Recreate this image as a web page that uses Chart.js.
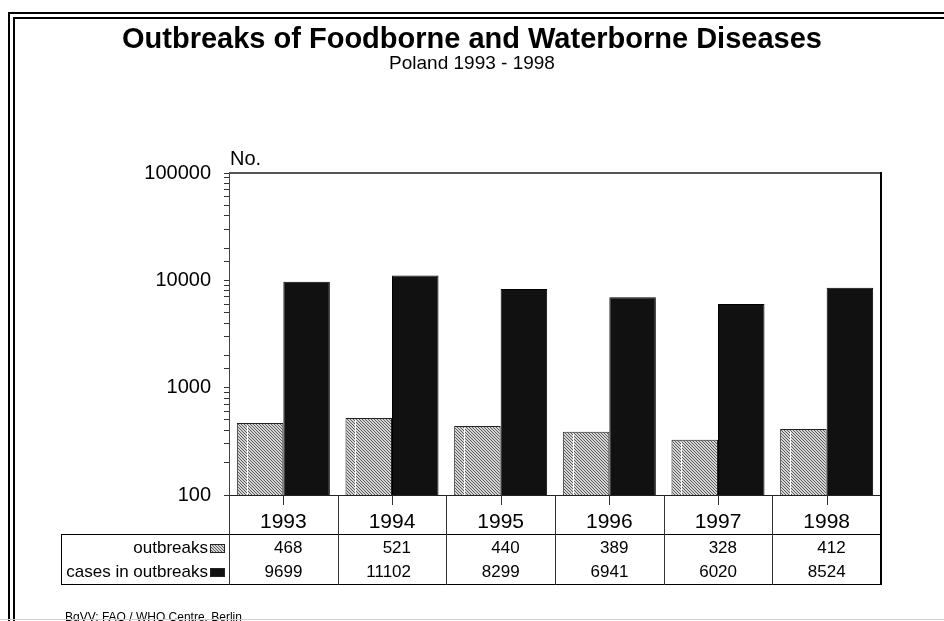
<!DOCTYPE html>
<html>
<head>
<meta charset="utf-8">
<title>Outbreaks of Foodborne and Waterborne Diseases</title>
<script src="https://cdn.jsdelivr.net/npm/chart.js@4.4.0/dist/chart.umd.min.js"></script>
<style>
  html, body { margin: 0; padding: 0; background: #fff; }
  canvas { display: block; }
</style>
</head>
<body>
<canvas id="canvas" width="944" height="621"></canvas>
<script>
var years = ["1993", "1994", "1995", "1996", "1997", "1998"];
var outbreaks = [468, 521, 440, 389, 328, 412];
var cases = [9699, 11102, 8299, 6941, 6020, 8524];
var seriesNames = ["outbreaks", "cases in outbreaks"];
var yTicks = [100, 1000, 10000, 100000];

var FONT = "'Liberation Sans', Arial, sans-serif";
Chart.defaults.font.family = FONT;
Chart.defaults.color = "#000";

// small diagonal hatch used for the outbreaks bars
function hatch(ctx) {
    var tile = document.createElement("canvas");
    tile.width = 3;
    tile.height = 3;
    var t = tile.getContext("2d");
    t.fillStyle = "#d6d6d6";
    t.fillRect(0, 0, 3, 3);
    t.fillStyle = "#5a5a5a";
    for (var i = 0; i < 3; i++) {
        t.fillRect(i, i, 1, 1);
    }
    return ctx.createPattern(tile, "repeat");
}

var canvas = document.getElementById("canvas");
var ctx = canvas.getContext("2d");
var pattern = hatch(ctx);
var colors = [pattern, "#111"];

function line(c, x1, y1, x2, y2, color, w) {
    c.strokeStyle = color;
    c.lineWidth = w;
    c.beginPath();
    c.moveTo(x1, y1);
    c.lineTo(x2, y2);
    c.stroke();
}

var decorations = {
    id: "decorations",
    afterDatasetsDraw: function (chart) {
        // thin light streak inside each hatched bar
        var c = chart.ctx;
        chart.getDatasetMeta(0).data.forEach(function (bar) {
            var x0 = bar.x - bar.width / 2 + 10;
            c.fillStyle = "#fff";
            c.fillRect(Math.round(x0), bar.y + 2, 1, bar.base - bar.y - 2);
        });
    },
    afterDraw: function (chart) {
        var c = chart.ctx;
        var a = chart.chartArea;
        var xs = chart.scales.x;
        var W = chart.width, H = chart.height;
        c.save();

        // double frame
        c.fillStyle = "#000";
        c.fillRect(8, 12, 2, H - 12);
        c.fillRect(8, 12, W - 8, 2);
        c.fillRect(13, 17, 2, H - 17);
        c.fillRect(13, 17, W - 13, 2);

        // titles
        c.fillStyle = "#000";
        c.textAlign = "center";
        c.textBaseline = "middle";
        c.font = "bold 29px " + FONT;
        c.fillText("Outbreaks of Foodborne and Waterborne Diseases", 472, 40);
        c.font = "19px " + FONT;
        c.fillText("Poland 1993 - 1998", 472, 64);

        c.textAlign = "left";
        c.font = "20px " + FONT;
        c.fillText("No.", a.left + 1, 159);

        // plot box
        line(c, a.left, a.top, a.right, a.top, "#555", 2);
        line(c, a.right, a.top - 1, a.right, a.bottom, "#000", 2);
        line(c, a.left, a.bottom + 0.5, a.right, a.bottom + 0.5, "#222", 1);

        // data table below the bars
        var step = xs.getPixelForValue(1) - xs.getPixelForValue(0);
        var tableLeft = 61, rowTop = 534, tableBottom = 585;
        var rowY = [548, 572];
        var values = [outbreaks, cases];

        line(c, tableLeft, rowTop + 0.5, a.right, rowTop + 0.5, "#000", 1);
        line(c, tableLeft, tableBottom - 0.5, a.right, tableBottom - 0.5, "#000", 1);
        line(c, tableLeft + 0.5, rowTop, tableLeft + 0.5, tableBottom, "#000", 1);

        for (var i = 0; i <= years.length; i++) {
            var bx = Math.round(a.left + i * step) + 0.5;
            if (i === years.length) bx = a.right;
            line(c, bx, a.bottom, bx, tableBottom, i === years.length ? "#000" : "#333", i === years.length ? 2 : 1);
        }

        years.forEach(function (yr, i) {
            var cx = xs.getPixelForValue(i);
            line(c, Math.round(cx) + 0.5, a.bottom, Math.round(cx) + 0.5, a.bottom + 10, "#333", 1);
            c.fillStyle = "#000";
            c.textAlign = "center";
            c.font = "21px " + FONT;
            c.fillText(yr, cx, 522);
            c.textAlign = "right";
            c.font = "17px " + FONT;
            c.fillText(String(values[0][i]), cx + 19, rowY[0]);
            c.fillText(String(values[1][i]), cx + 19, rowY[1]);
        });

        seriesNames.forEach(function (name, k) {
            c.fillStyle = "#000";
            c.textAlign = "right";
            c.font = "17px " + FONT;
            c.fillText(name, 208, rowY[k]);
            c.fillStyle = colors[k];
            c.fillRect(210, rowY[k] - 4, 15, 9);
            c.strokeStyle = "#222";
            c.lineWidth = 1;
            c.strokeRect(210.5, rowY[k] - 3.5, 14, 8);
        });

        // source line
        c.fillStyle = "#000";
        c.textAlign = "left";
        c.textBaseline = "alphabetic";
        c.font = "12px " + FONT;
        c.fillText("BgVV; FAO / WHO Centre, Berlin", 65, 621);
        line(c, 0, 619.5, W, 619.5, "#d0d0d0", 1);

        c.restore();
    }
};

new Chart(canvas, {
    type: "bar",
    data: {
        labels: years,
        datasets: [{
            label: seriesNames[0],
            data: outbreaks,
            backgroundColor: pattern,
            borderColor: "#222",
            borderWidth: 1
        }, {
            label: seriesNames[1],
            data: cases,
            backgroundColor: "#111",
            borderColor: "#000",
            borderWidth: 1
        }]
    },
    options: {
        responsive: false,
        animation: false,
        devicePixelRatio: 1,
        barPercentage: 1,
        categoryPercentage: 0.856,
        layout: {
            padding: { top: 173, right: 63, bottom: 0, left: 0 }
        },
        plugins: {
            legend: { display: false },
            title: { display: false },
            tooltip: { enabled: false }
        },
        scales: {
            x: {
                grid: { display: false },
                border: { display: false },
                ticks: { display: false },
                afterFit: function (s) { s.height = 126; }
            },
            y: {
                type: "logarithmic",
                min: 100,
                max: 100000,
                border: { display: true, color: "#444", width: 1 },
                grid: { drawOnChartArea: false, drawTicks: true, tickLength: 5, color: "#333" },
                ticks: {
                    autoSkip: false,
                    padding: 13,
                    font: { size: 20 },
                    color: "#000",
                    callback: function (v) {
                        return yTicks.indexOf(Math.round(v)) >= 0 ? String(Math.round(v)) : "";
                    }
                },
                afterFit: function (s) { s.width = 229; }
            }
        }
    },
    plugins: [decorations]
});
</script>
</body>
</html>
